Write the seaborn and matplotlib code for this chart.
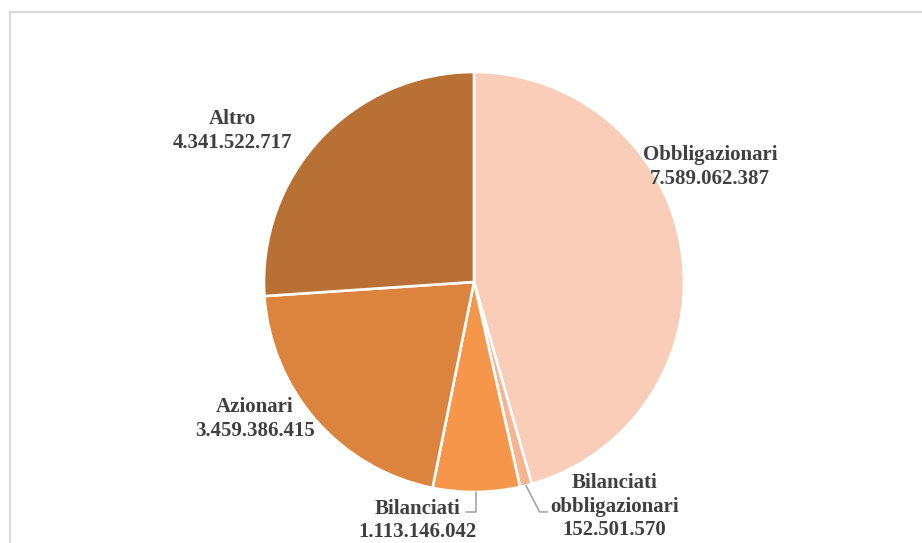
import matplotlib.pyplot as plt
import numpy as np
import seaborn as sns
from matplotlib.patches import Rectangle

categorie = ["Obbligazionari", "Bilanciati\nobbligazionari", "Bilanciati", "Azionari", "Altro"]
valori = [7589062387, 152501570, 1113146042, 3459386415, 4341522717]
colori = sns.color_palette(["#F9CDB7", "#F7B491", "#F5964A", "#DC843E", "#B87034"])

# posizioni delle etichette (unita' del raggio)
pos_etichette = [(1.124, 0.548), (0.667, -1.07), (-0.267, -1.135), (-1.043, -0.652), (-1.148, 0.719)]

sns.set_theme(style="white")
plt.rcParams["font.family"] = ["Liberation Serif", "DejaVu Serif"]

W, H, dpi = 922, 543, 100
cx, cy, r = 474, 282, 210   # centro e raggio in pixel

fig = plt.figure(figsize=(W / dpi, H / dpi), dpi=dpi)
ax = fig.add_axes([0, 0, 1, 1])

wedges, _ = ax.pie(valori, colors=colori, startangle=90, counterclock=False,
                   wedgeprops=dict(edgecolor="white", linewidth=1.9))
ax.set_xlim(-cx / r, (W - cx) / r)
ax.set_ylim((cy - H) / r, cy / r)
ax.set_aspect("equal")
ax.axis("off")

def fmt(v):
    return f"{v:,}".replace(",", ".")

for cat, v, (x, y) in zip(categorie, valori, pos_etichette):
    ax.text(x, y, f"{cat}\n{fmt(v)}", ha="center", va="center", fontsize=15,
            fontweight="bold", color="#404040", linespacing=1.24)

# linee guida per le fette piccole
gray = "#A6A6A6"
for i, (tx, ty) in [(1, (0.35, -1.095)), (2, (-0.04, -1.095))]:
    w = wedges[i]
    mid = np.deg2rad((w.theta1 + w.theta2) / 2)
    ex, ey = np.cos(mid), np.sin(mid)
    if i == 1:
        ax.plot([ex, ex + 0.065, tx], [ey, ty, ty], color=gray, lw=1.2)
    else:
        ax.plot([tx, ex, ex], [ty, ty, ey], color=gray, lw=1.2)

# cornice grigia
fig.add_artist(Rectangle((9.5 / W, -0.1), 1.2, (H - 11.5) / H + 0.1,
                         transform=fig.transFigure, fill=False,
                         edgecolor="#D9D9D9", lw=1.5))

fig.savefig("out.png", dpi=dpi)
